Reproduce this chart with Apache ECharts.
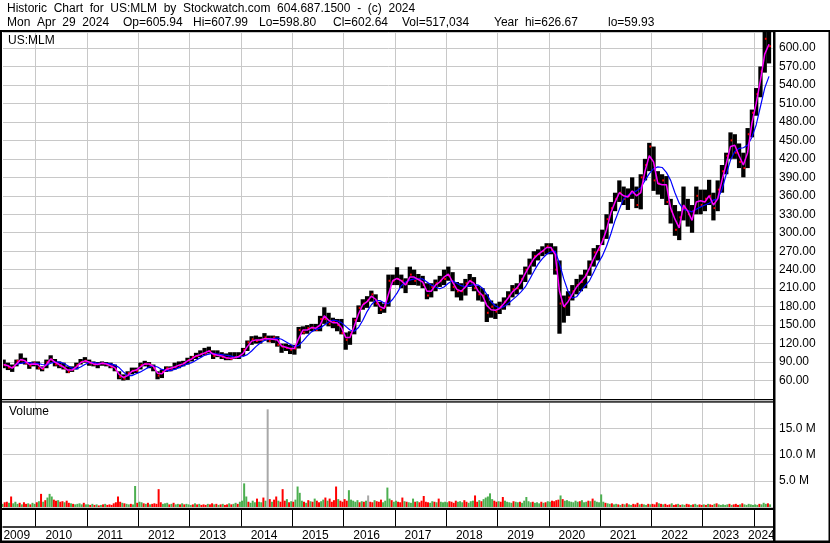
<!DOCTYPE html>
<html>
<head>
<meta charset="utf-8">
<script src="https://cdn.jsdelivr.net/npm/echarts@6/dist/echarts.min.js"></script>
<style>
html,body{margin:0;padding:0;background:#fff;}
#c{width:830px;height:543px;}
</style>
</head>
<body>
<div id="c"></div>
<script>
// ---------------- DATA (monthly, first bar = May 2009) ----------------
const START_YEAR = 2009, START_MONTH = 5;
const headerLine1 = 'Historic Chart for US:MLM by Stockwatch.com 604.687.1500 - (c) 2024';
const headerFields = ['Mon Apr 29 2024', 'Op=605.94', 'Hi=607.99', 'Lo=598.80', 'Cl=602.64', 'Vol=517,034', 'Year hi=626.67', 'lo=59.93'];
const symbolLabel = 'US:MLM';
const volumeLabel = 'Volume';

const priceHigh = [
  94,89,86,94,104,97,90,91,
  91,83,94,101,95,91,89,83,83,89,95,98,
  94,91,90,91,90,89,86,75,70,75,81,81,
  89,92,90,86,75,78,83,83,89,91,92,97,
  100,105,109,113,115,109,109,106,104,106,106,106,
  113,125,132,133,131,137,133,133,132,120,120,118,
  118,147,148,150,152,152,165,179,170,162,160,160,
  138,140,162,182,192,197,206,200,188,185,232,232,
  244,232,226,245,240,233,230,218,218,224,230,240,
  245,236,220,218,225,233,228,214,210,200,190,185,
  188,195,205,215,218,232,245,258,270,273,278,283,
  283,278,255,198,205,215,225,232,240,255,275,280,
  305,330,350,365,385,375,372,390,375,395,420,446,
  440,400,395,392,355,345,335,375,355,345,375,370,
  370,386,365,385,410,430,463,460,445,430,470,500,
  535,570,627,626
];
const priceLow = [
  80,77,74,83,88,86,79,83,
  78,75,80,89,83,80,78,72,74,78,86,89,
  84,83,80,84,83,80,75,62,60,61,70,72,
  78,83,80,75,62,64,74,75,78,80,83,86,
  91,95,98,101,104,95,98,95,93,93,95,95,
  100,108,118,120,120,125,122,121,115,105,108,103,
  102,112,135,136,140,140,140,152,148,145,140,135,
  110,118,135,155,175,178,188,180,168,170,180,215,
  215,210,202,215,215,214,210,192,195,205,212,215,
  222,205,195,190,198,212,205,190,188,155,162,160,
  168,175,182,195,200,208,220,232,245,255,262,265,
  265,232,136,154,165,190,200,205,210,230,245,255,
  280,290,315,335,350,345,337,355,340,338,385,400,
  368,362,355,345,315,295,288,320,310,300,330,330,
  335,345,320,335,365,395,420,420,405,390,405,455,
  490,520,560,575
];
const priceClose = [
  85,81,82,92,93,88,84,89,
  80,79,90,94,86,84,80,74,78,85,90,92,
  88,86,87,88,86,82,78,66,63,72,76,76,
  85,87,86,80,68,74,80,78,82,84,88,93,
  98,100,103,103,108,100,102,98,96,95,98,100,
  110,122,127,124,126,130,124,130,118,115,113,110,
  112,142,138,145,146,142,160,160,152,156,150,137,
  126,135,158,178,185,190,200,185,175,180,222,222,
  225,222,218,232,222,225,215,198,212,218,222,225,
  230,212,205,205,218,222,210,200,198,170,180,172,
  180,188,198,208,210,225,240,250,262,265,270,278,
  272,240,185,180,195,205,215,220,232,248,268,272,
  290,322,340,355,365,355,360,365,345,390,410,440,
  385,380,385,350,335,305,325,340,330,335,360,345,
  355,360,340,370,400,425,450,430,415,405,460,495,
  525,562,615,603
];
// short moving average (magenta)
const maShort = [
  86,84,80,87,94,92,86,87,
  86,79,86,95,90,86,82,77,77,82,89,92,
  90,87,86,88,87,84,81,70,65,68,75,77,
  82,87,87,83,72,71,78,80,82,85,87,92,
  95,100,102,105,108,103,101,100,97,96,97,99,
  104,115,124,126,126,128,128,127,126,116,114,112,
  112,128,142,142,146,145,150,165,158,154,154,146,
  130,130,148,168,183,188,197,192,180,177,200,222,
  226,222,215,228,228,224,220,205,205,215,220,228,
  233,220,208,205,212,222,218,205,198,182,175,174,
  177,185,194,204,210,220,234,246,258,265,270,276,
  276,265,205,180,188,200,212,220,228,242,258,272,
  285,305,332,350,365,360,358,368,360,365,400,425,
  415,380,378,378,340,322,308,345,335,320,350,352,
  350,360,345,355,385,412,440,442,425,410,430,478,
  510,548,590,606
];
// long moving average (blue)
const maLong = [
  null,null,null,86,88,89,89,88,
  88,86,85,88,90,90,88,84,80,79,82,86,
  89,89,88,88,88,87,85,81,74,68,68,71,
  74,78,82,84,82,78,76,76,78,81,84,87,
  89,93,97,101,103,104,103,102,101,100,98,98,
  99,102,108,115,121,125,127,128,129,127,123,119,
  115,117,124,132,139,143,145,150,155,158,157,154,
  148,142,140,146,158,172,183,190,190,186,185,192,
  202,214,220,223,225,225,225,220,215,212,209,212,
  218,222,218,214,212,214,216,215,210,200,188,181,
  178,180,185,191,197,204,212,224,237,249,258,265,
  269,270,250,225,205,194,196,205,214,222,236,250,
  262,278,298,320,338,355,361,364,368,373,385,396,
  404,407,406,398,385,365,348,338,336,334,338,342,
  345,348,353,355,370,395,418,432,437,438,442,455,
  475,505,535,554
];
// half-monthly volume (millions), first bar = first half of May 2009
const volumeM = [
  0.6,0.9,1.0,0.8,2.0,0.7,1.0,0.6,0.8,0.5,0.9,0.6,0.7,0.5,0.8,0.6,
  0.9,1.1,2.5,1.0,1.3,1.8,2.5,2.0,1.4,1.2,1.3,1.0,1.1,0.9,1.2,0.8,0.7,0.6,0.5,0.6,0.7,0.5,0.8,0.5,
  0.5,0.4,0.6,0.4,0.5,0.3,0.4,0.5,0.6,0.4,0.5,0.4,0.7,0.9,2.0,1.0,0.8,0.7,0.6,0.5,0.6,0.5,4.0,0.8,
  1.0,0.9,0.7,0.6,0.8,0.5,0.6,0.7,0.6,3.4,0.9,0.6,0.7,0.8,0.5,0.6,0.8,0.5,0.6,0.5,0.7,0.5,0.6,0.5,
  0.4,0.5,0.7,0.5,0.6,0.4,0.5,0.4,0.6,0.5,0.7,0.5,0.6,0.4,0.5,0.6,0.4,0.5,0.7,0.5,0.6,0.8,0.6,1.0,
  1.2,4.5,2.0,1.0,0.8,1.2,0.9,1.6,1.0,0.9,1.8,1.2,18.6,1.5,1.0,1.4,2.0,1.2,1.0,3.4,1.2,1.5,0.9,1.1,
  1.0,1.4,3.9,2.7,1.2,1.0,0.8,1.3,1.1,1.0,1.6,1.2,0.9,1.1,1.4,1.8,1.2,1.6,1.0,1.3,3.9,1.5,1.2,1.0,
  1.5,1.2,3.2,1.4,1.2,1.0,1.3,0.9,1.1,1.0,1.2,2.2,1.0,0.9,1.3,1.1,1.0,1.4,0.9,1.2,3.7,1.6,1.3,1.0,
  1.2,1.0,0.9,1.8,1.1,1.0,0.9,0.8,1.6,1.0,1.1,0.9,1.2,2.1,1.0,0.9,0.8,1.1,1.0,0.9,1.6,1.0,0.9,1.0,
  0.9,1.1,1.0,0.8,1.2,1.0,1.1,0.9,1.3,1.0,0.8,1.1,1.2,2.2,1.0,1.3,1.1,1.5,1.8,2.0,2.6,1.5,1.2,1.0,
  1.1,1.0,1.9,1.2,1.0,0.9,0.8,1.1,1.0,0.9,1.0,0.8,1.2,1.9,1.1,0.9,1.0,0.8,0.9,0.7,1.0,0.8,0.9,1.1,
  1.0,1.2,1.1,1.3,1.4,2.2,1.5,1.2,1.3,1.1,1.0,0.9,1.2,1.0,1.1,1.3,0.9,1.0,1.2,1.1,1.6,1.2,1.0,0.9,
  2.4,1.0,0.8,0.7,0.6,0.7,0.5,0.6,0.5,0.4,0.6,0.5,0.7,0.5,0.4,0.6,0.5,0.8,0.5,0.6,0.5,0.4,0.6,0.5,
  0.6,0.5,0.9,0.7,0.6,0.5,0.6,0.4,0.5,0.7,0.4,0.5,0.6,0.4,0.5,0.4,0.6,0.5,0.4,0.5,0.6,0.4,0.5,0.4,
  0.5,0.4,0.6,0.5,0.4,0.6,0.7,0.5,0.4,0.5,0.4,0.5,0.6,0.4,0.5,0.6,0.4,0.5,0.7,0.5,0.4,0.6,0.5,0.4,
  0.5,0.4,0.6,0.5,0.8,0.6,0.7,0.5
];
// g = up (green), r = down (red), n = unchanged (gray)
const volumeDir = [
  'grrgrgggrgrrgrgg',
  'rgrgrgggrrgrrgrrgrggggrg',
  'grgrgrgrgrrrrrrrgrggrggr',
  'ggrgrgrrrrrgggrgrggrgrgg',
  'grgrgrrrgrrgrgrgrrgrggrg',
  'gggrgggrggrgnrgrrgrrrgrg',
  'rggggrgrgrgrrggrgrrrrgrr',
  'rrgggggrgrgnrrgrrrggggrg',
  'grrrgrgggrgrrrrrggrgrggg',
  'grrrrgggrrgggrrgrgggggrr',
  'grrggggrggrgggggrgggrgrg',
  'grrrrgrgggggggrgggrgrggg',
  'ggrggrggrgrgrggrrrgrggrg',
  'rrrgrgrrrgrrgrggrrgrggrr',
  'grgrrgrgggggrgrrrgrggggg',
  'ggrgggrg'
].join('');
const yearBoundaries = [2010,2011,2012,2013,2014,2015,2016,2017,2018,2019,2020,2021,2022,2023,2024];
const yearLabels = [2009,2010,2011,2012,2013,2014,2015,2016,2017,2018,2019,2020,2021,2022,2023,2024];

// ---------------- BUILD ----------------
const X_MIN = 2009.3627, X_MAX = 2024.389;
function monthT(k){ return START_YEAR + (START_MONTH - 1 + k + 0.5) / 12; }
function halfT(i){ return START_YEAR + (START_MONTH - 1 + (i + 0.5) / 2) / 12; }

const priceData = priceHigh.map((h, k) => [monthT(k), h, priceLow[k], priceClose[k]]);
const shortData = maShort.map((v, k) => [monthT(k), v]);
const longData = maLong.map((v, k) => [monthT(k), v]);
const volColors = {g:'#4caf50', r:'#ff0000', n:'#a8a8a8'};
const volData = volumeM.map((v, i) => ({value:[halfT(i), v * 1e6], itemStyle:{color: volColors[volumeDir[i]]}}));
const labelPos = yearLabels.map(y => (Math.max(y, X_MIN) + Math.min(y + 1, X_MAX)) / 2 - 0.05);

const FONT = '"Liberation Sans", Arial, sans-serif';
const GRID_L = 3, GRID_R = 56;
const gridColor = '#c8c8c8';
const wide = s => s.replace(/ /g, '  ');
const headerFieldX = [7, 123, 193, 259, 333, 402, 494, 608];

const chart = echarts.init(document.getElementById('c'), null, {renderer:'canvas'});
const xBase = (gi) => ({
  type:'value', gridIndex:gi, min:X_MIN, max:X_MAX,
  axisLine:{show:false}, axisLabel:{show:false},
  axisTick:{show:false, customValues: yearBoundaries},
  splitLine:{show:true, lineStyle:{color:gridColor, width:1}}
});

const graphics = [
  {type:'text', left:7, top:3, style:{text:wide(headerLine1), font:'12px ' + FONT, fill:'#000'}},
  {type:'text', left:8, top:35, z:10, style:{text:symbolLabel, font:'12px ' + FONT, fill:'#000'}},
  {type:'text', left:9, top:406, z:10, style:{text:volumeLabel, font:'12px ' + FONT, fill:'#000'}},
  {type:'rect', z:20, shape:{x:0, y:30, width:830, height:2}, style:{fill:'#000'}},
  {type:'rect', z:20, shape:{x:0, y:30, width:2, height:513}, style:{fill:'#000'}},
  {type:'rect', z:20, shape:{x:773, y:30, width:2.5, height:512}, style:{fill:'#000'}},
  {type:'rect', z:20, shape:{x:828.5, y:30, width:1.5, height:513}, style:{fill:'#000'}},
  {type:'rect', z:20, shape:{x:0, y:399, width:774, height:1.3}, style:{fill:'#000'}},
  {type:'rect', z:20, shape:{x:0, y:401.3, width:774, height:1.3}, style:{fill:'#000'}},
  {type:'rect', z:20, shape:{x:0, y:508, width:774, height:2}, style:{fill:'#000'}},
  {type:'rect', z:20, shape:{x:0, y:540.5, width:830, height:2.5}, style:{fill:'#000'}}
];
headerFields.forEach((f, i) => graphics.push(
  {type:'text', left:headerFieldX[i], top:17, style:{text:wide(f), font:'12px ' + FONT, fill:'#000'}}
));

chart.setOption({
  animation:false,
  backgroundColor:'#fff',
  textStyle:{fontFamily:FONT},
  grid:[
    {left:GRID_L, right:GRID_R, top:32, height:367},
    {left:GRID_L, right:GRID_R, top:402, height:105},
    {left:GRID_L, right:GRID_R, top:510, height:16.5}
  ],
  xAxis:[
    xBase(0),
    xBase(1),
    {
      type:'value', gridIndex:2, min:X_MIN, max:X_MAX, position:'bottom',
      axisLine:{show:true, lineStyle:{color:'#000', width:1.5}},
      axisTick:{show:true, inside:true, length:16.5, customValues: yearBoundaries, lineStyle:{color:'#000', width:1}},
      axisLabel:{show:true, customValues: labelPos, formatter: v => String(Math.floor(v)), margin:3,
        fontSize:12, color:'#000', fontFamily:FONT, hideOverlap:false},
      splitLine:{show:false}
    }
  ],
  yAxis:[
    {
      type:'value', gridIndex:0, position:'right', min:30, max:626, interval:30,
      axisLine:{show:false}, axisTick:{show:false},
      axisLabel:{showMinLabel:false, showMaxLabel:false, margin:5, fontSize:12, color:'#000', fontFamily:FONT,
        formatter: v => v.toFixed(2)},
      splitLine:{show:true, lineStyle:{color:gridColor, width:1}}
    },
    {
      type:'value', gridIndex:1, position:'right', min:0, max:20e6, interval:5e6,
      axisLine:{show:false}, axisTick:{show:false},
      axisLabel:{showMinLabel:false, showMaxLabel:false, margin:5, fontSize:12, color:'#000', fontFamily:FONT,
        formatter: v => (v / 1e6).toFixed(1) + ' M'},
      splitLine:{show:true, lineStyle:{color:gridColor, width:1}}
    },
    {type:'value', gridIndex:2, min:0, max:1, show:false}
  ],
  series:[
    {
      type:'custom', xAxisIndex:0, yAxisIndex:0, clip:true, silent:true, z:3,
      data: priceData,
      renderItem: function(params, api){
        const t = api.value(0);
        const pH = api.coord([t, api.value(1)]);
        const pL = api.coord([t, api.value(2)]);
        const pC = api.coord([t, api.value(3)]);
        const w = api.size([1/12, 0])[0];
        return {type:'group', children:[
          {type:'rect', shape:{x:pH[0] - w/2, y:pH[1], width:w, height:Math.max(1, pL[1] - pH[1])}, style:{fill:'#000'}},
          {type:'rect', shape:{x:pH[0] + w/2 - 2, y:pC[1] - 1, width:1.8, height:2}, style:{fill:'#ff0000'}}
        ]};
      }
    },
    {
      type:'line', xAxisIndex:0, yAxisIndex:0, data:longData, showSymbol:false, silent:true, z:4,
      lineStyle:{color:'#0000ff', width:1.2}, connectNulls:false
    },
    {
      type:'line', xAxisIndex:0, yAxisIndex:0, data:shortData, showSymbol:false, silent:true, z:5,
      lineStyle:{color:'#ff00ff', width:1.5}
    },
    {
      type:'bar', xAxisIndex:1, yAxisIndex:1, data:volData, barWidth:2, silent:true, z:3
    }
  ],
  graphic: graphics
});
</script>
</body>
</html>
